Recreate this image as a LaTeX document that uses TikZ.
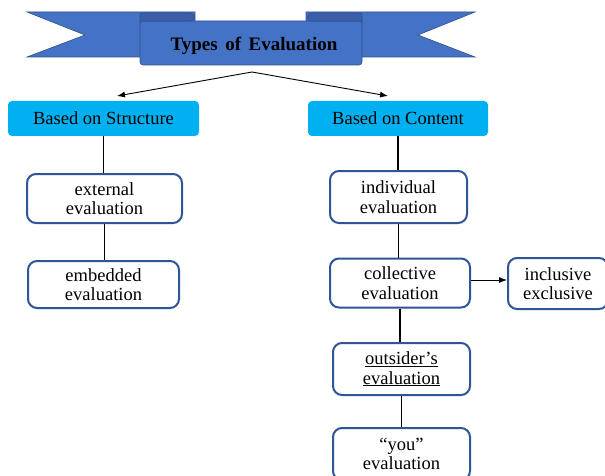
\documentclass[tikz,border=0pt]{standalone}
\usepackage{fontspec}
\setmainfont{Liberation Serif}
\usetikzlibrary{arrows.meta}
\definecolor{ribbon}{HTML}{4472C4}
\definecolor{ribbonedge}{HTML}{2F528F}
\definecolor{rolldark}{HTML}{3A5FA8}
\definecolor{cyanbox}{HTML}{00B0F0}
\definecolor{boxedge}{HTML}{2F5597}
\begin{document}
\begin{tikzpicture}[x=1pt,y=-1pt,
  txt/.style={font=\fontsize{18.5}{19.5}\selectfont, align=center, inner sep=0pt},
  headbox/.style={txt, fill=cyanbox, rounded corners=4pt, minimum height=35pt},
  evbox/.style={txt, draw=boxedge, line width=2pt, fill=white, rounded corners=9pt},
  rib/.style={fill=ribbon, draw=ribbonedge, line width=0.6pt},
  roll/.style={fill=rolldark, draw=ribbonedge, line width=0.6pt},
  conn/.style={line width=1.1pt, black},
  arr/.style={line width=0.9pt, black, -{Latex[length=8pt,width=6pt]}}]
\path[use as bounding box, clip] (0,0) rectangle (605,476);
\fill[white] (0,0) rectangle (605,476);
% ribbon
\path[rib] (27,12) -- (195,12) -- (195,57) -- (27,57) -- (85,35) -- cycle;
\path[rib] (475,12) -- (306,12) -- (306,57) -- (475,57) -- (418,35) -- cycle;
\path[rib, rounded corners=3pt] (140,21) -- (140,65) -- (362,65) -- (362,21) -- cycle;
\path[roll] (140,23) -- (140,16) .. controls (140,13) .. (146,13) -- (190,13) .. controls (196,13) and (196,21) .. (190,21) -- (146,21) .. controls (141,21) .. (140,23) -- cycle;
\path[roll] (362,23) -- (362,16) .. controls (362,13) .. (356,13) -- (312,13) .. controls (306,13) and (306,21) .. (312,21) -- (356,21) .. controls (361,21) .. (362,23) -- cycle;
\node[font=\fontsize{19}{20}\selectfont\bfseries, anchor=base, inner sep=0pt] (title) at (254,51) {Types\hspace{0.4em}of\hspace{0.4em}Evaluation};
% arrows from ribbon
\coordinate (apex) at (252,72);
\coordinate (lt) at (117,96);
\coordinate (rt) at (388,96);
\draw[arr] (apex) -- (lt);
\draw[arr] (apex) -- (rt);
% boxes
\node[headbox, minimum width=191pt] (bs) at (103.5,118.5) {Based on Structure};
\node[headbox, minimum width=180pt] (bc) at (398,118.5) {Based on Content};
\node[evbox, minimum width=155pt, minimum height=49pt] (ext) at (104.5,198.5) {external\\evaluation};
\node[evbox, minimum width=151pt, minimum height=47pt] (emb) at (103.5,284.5) {embedded\\evaluation};
\node[evbox, minimum width=137pt, minimum height=52pt] (ind) at (398.5,197) {individual\\evaluation};
\node[evbox, minimum width=140pt, minimum height=49pt] (col) at (400,283) {collective\\evaluation};
\node[evbox, minimum width=100pt, minimum height=51pt] (inc) at (558,283.5) {inclusive\\exclusive};
\node[evbox, minimum width=137pt, minimum height=52pt] (out) at (401.5,369) {\underline{outsider’s}\\\underline{evaluation}};
\node[evbox, minimum width=137pt, minimum height=52pt] (you) at (401.5,454) {“you”\\evaluation};
% connectors
\draw[conn] (bs.south) -- (bs.south |- ext.north);
\draw[conn] (ext.south) -- (ext.south |- emb.north);
\draw[conn] (bc.south) -- (bc.south |- ind.north);
\draw[conn] (ind.south) -- (ind.south |- col.north);
\draw[conn] (col.south) -- (col.south |- out.north);
\draw[conn] (out.south) -- (out.south |- you.north);
\draw[arr] ([yshift=3pt]col.east) -- ([yshift=3pt]col.east -| inc.west);
\end{tikzpicture}
\end{document}
